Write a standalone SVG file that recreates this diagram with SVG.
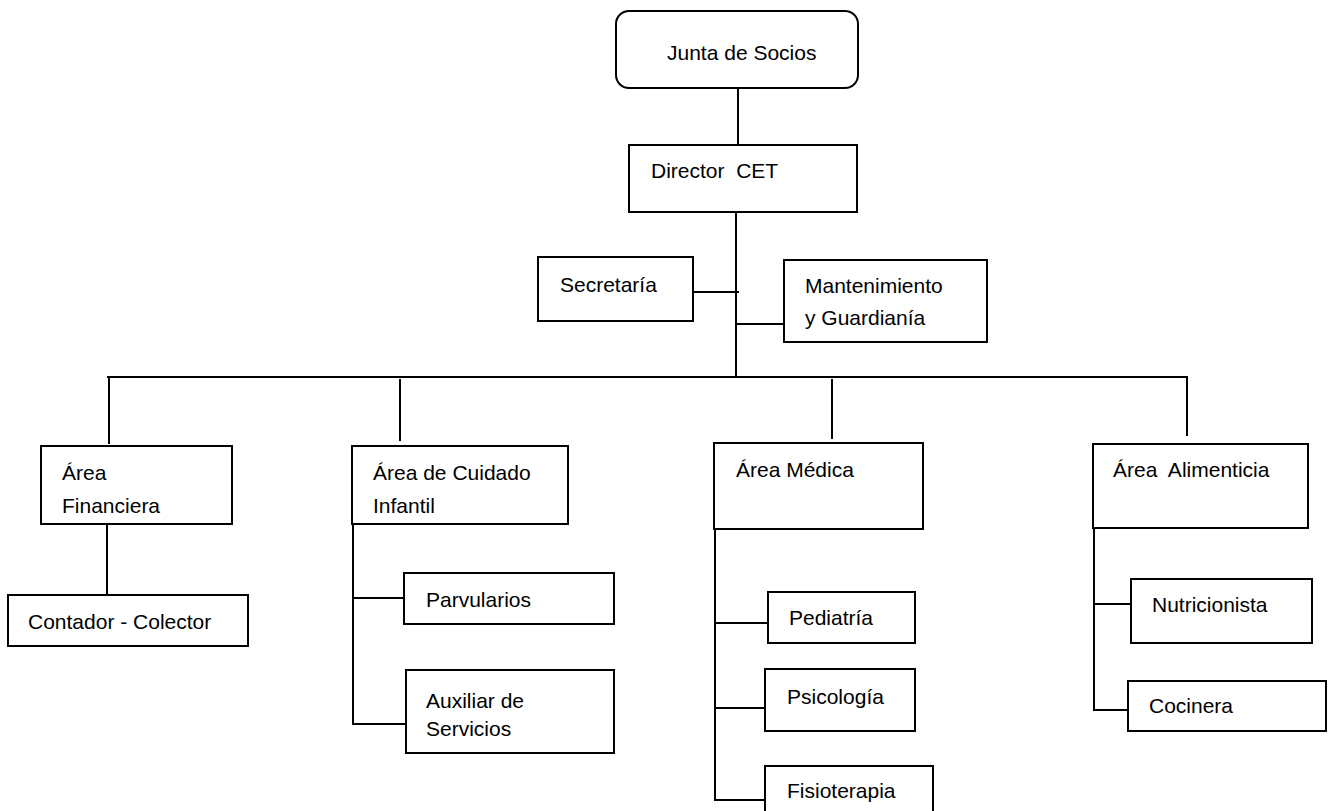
<svg xmlns="http://www.w3.org/2000/svg" width="1330" height="811" viewBox="0 0 1330 811">
<style>
.box{fill:#fff;stroke:#000;stroke-width:2}
.ln{fill:none;stroke:#000;stroke-width:2}
text{font-family:"Liberation Sans",Arial,sans-serif;font-size:21px;fill:#000}
</style>
<rect width="1330" height="811" fill="#fff"/>
<g id="connectors">
<line class="ln" x1="738" y1="88" x2="738" y2="145"/>
<line class="ln" x1="736" y1="212" x2="736" y2="378"/>
<line class="ln" x1="693" y1="292" x2="739" y2="292"/>
<line class="ln" x1="736" y1="324" x2="784" y2="324"/>
<line class="ln" x1="107" y1="377" x2="1188" y2="377"/>
<line class="ln" x1="109" y1="377" x2="109" y2="444"/>
<line class="ln" x1="400" y1="379" x2="400" y2="441"/>
<line class="ln" x1="832" y1="379" x2="832" y2="439"/>
<line class="ln" x1="1187" y1="377" x2="1187" y2="436"/>
<line class="ln" x1="107" y1="521" x2="107" y2="594"/>
<polyline class="ln" points="353,524 353,724 406,724"/>
<line class="ln" x1="353" y1="598" x2="404" y2="598"/>
<polyline class="ln" points="715,529 715,800 765,800"/>
<line class="ln" x1="716" y1="623" x2="768" y2="623"/>
<line class="ln" x1="715" y1="708" x2="765" y2="708"/>
<polyline class="ln" points="1094,528 1094,710 1128,710"/>
<line class="ln" x1="1094" y1="604" x2="1131" y2="604"/>
</g>
<g id="junta"><rect class="box" x="616" y="11" width="242" height="77" rx="13"/><text x="667" y="60">Junta de Socios</text></g>
<g id="director"><rect class="box" x="629" y="145" width="228" height="67"/><text x="651" y="178" xml:space="preserve">Director  CET</text></g>
<g id="secretaria"><rect class="box" x="538" y="257" width="155" height="64"/><text x="560" y="292">Secretaría</text></g>
<g id="mantenimiento"><rect class="box" x="784" y="260" width="203" height="82"/><text x="805" y="293">Mantenimiento</text><text x="805" y="325">y Guardianía</text></g>
<g id="financiera"><rect class="box" x="41" y="446" width="191" height="78"/><text x="62" y="480">Área</text><text x="62" y="513">Financiera</text></g>
<g id="contador"><rect class="box" x="8" y="595" width="240" height="51"/><text x="28" y="629">Contador - Colector</text></g>
<g id="cuidado"><rect class="box" x="352" y="446" width="216" height="78"/><text x="373" y="480">Área de Cuidado</text><text x="373" y="513">Infantil</text></g>
<g id="parvularios"><rect class="box" x="404" y="573" width="210" height="51"/><text x="426" y="607">Parvularios</text></g>
<g id="auxiliar"><rect class="box" x="406" y="670" width="208" height="83"/><text x="426" y="708">Auxiliar de</text><text x="426" y="736">Servicios</text></g>
<g id="medica"><rect class="box" x="714" y="443" width="209" height="86"/><text x="736" y="477">Área Médica</text></g>
<g id="pediatria"><rect class="box" x="768" y="592" width="147" height="51"/><text x="789" y="625">Pediatría</text></g>
<g id="psicologia"><rect class="box" x="765" y="669" width="150" height="62"/><text x="787" y="704">Psicología</text></g>
<g id="fisioterapia"><rect class="box" x="765" y="766" width="168" height="60"/><text x="787" y="798">Fisioterapia</text></g>
<g id="alimenticia"><rect class="box" x="1093" y="444" width="215" height="84"/><text x="1113" y="477" xml:space="preserve">Área  Alimenticia</text></g>
<g id="nutricionista"><rect class="box" x="1131" y="579" width="181" height="64"/><text x="1152" y="612">Nutricionista</text></g>
<g id="cocinera"><rect class="box" x="1128" y="681" width="198" height="50"/><text x="1149" y="713">Cocinera</text></g>
</svg>
